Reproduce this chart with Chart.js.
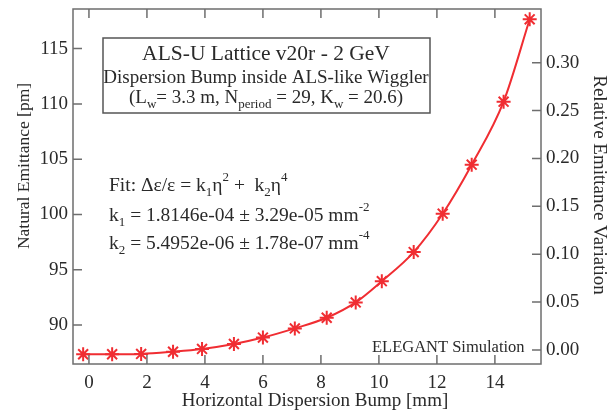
<!DOCTYPE html>
<html>
<head>
<meta charset="utf-8">
<script src="https://cdn.jsdelivr.net/npm/chart.js@4.4.1/dist/chart.umd.min.js"></script>
<style>
  html, body { margin: 0; padding: 0; background: #fff; }
  #wrap { width: 614px; height: 413px; }
</style>
</head>
<body>
<div id="wrap"><canvas id="myChart" width="614" height="413"></canvas></div>
<script>
// dispersion bump [mm] and natural emittance [pm]
const bump = [-0.2, 0.8, 1.8, 2.9, 3.9, 5.0, 6.0, 7.1, 8.2, 9.2, 10.1, 11.2, 12.2, 13.2, 14.3, 15.2];
const emittance = [87.36, 87.36, 87.39, 87.59, 87.84, 88.29, 88.87, 89.7, 90.66, 92.05, 93.97, 96.6, 100.07, 104.5, 110.2, 117.65];

const serif = "'Liberation Serif', 'DejaVu Serif', serif";
const textCol = '#2a2a2a';
const frameCol = '#6e6e6e';
const red = 'rgb(240, 45, 50)';

// draw a run of [text, mode] pieces, mode: '' normal, 'sub', 'sup'
function drawRich(c, parts, x, y, size, align) {
  const small = Math.round(size * 0.68);
  let w = 0;
  parts.forEach(p => {
    c.font = (p[1] ? small : size) + 'px ' + serif;
    w += c.measureText(p[0]).width;
  });
  let cx = align === 'center' ? x - w / 2 : x;
  parts.forEach(p => {
    c.font = (p[1] ? small : size) + 'px ' + serif;
    let dy = 0;
    if (p[1] === 'sub') dy = size * 0.28;
    if (p[1] === 'sup') dy = -size * 0.5;
    c.fillText(p[0], cx, y + dy);
    cx += c.measureText(p[0]).width;
  });
}

const framePlugin = {
  id: 'frame',
  afterDraw(chart) {
    const c = chart.ctx;
    const a = chart.chartArea;
    const L = 9;
    c.save();
    c.strokeStyle = frameCol;
    c.lineWidth = 1.5;
    c.strokeRect(a.left, a.top, a.right - a.left, a.bottom - a.top);
    c.beginPath();
    chart.scales.x.ticks.forEach(t => {
      const px = chart.scales.x.getPixelForValue(t.value);
      c.moveTo(px, a.bottom); c.lineTo(px, a.bottom - L);
      c.moveTo(px, a.top); c.lineTo(px, a.top + L);
    });
    chart.scales.y.ticks.forEach(t => {
      const py = chart.scales.y.getPixelForValue(t.value);
      c.moveTo(a.left, py); c.lineTo(a.left + L, py);
    });
    chart.scales.y2.ticks.forEach(t => {
      const py = chart.scales.y2.getPixelForValue(t.value);
      c.moveTo(a.right, py); c.lineTo(a.right - L, py);
    });
    c.stroke();

    // info box
    c.fillStyle = '#fff';
    c.fillRect(103, 38, 327, 75);
    c.strokeStyle = '#555';
    c.lineWidth = 1.5;
    c.strokeRect(103, 38, 327, 75);
    c.fillStyle = textCol;
    c.textBaseline = 'alphabetic';
    drawRich(c, [['ALS-U Lattice v20r - 2 GeV', '']], 266, 60, 21.5, 'center');
    drawRich(c, [['Dispersion Bump inside ALS-like Wiggler', '']], 266, 83, 19, 'center');
    drawRich(c, [['(L', ''], ['w', 'sub'], ['= 3.3 m, N', ''], ['period', 'sub'], [' = 29, K', ''], ['w', 'sub'], [' = 20.6)', '']], 266, 103, 19, 'center');

    // fit text
    drawRich(c, [['Fit: \u0394\u03b5/\u03b5 = k', ''], ['1', 'sub'], ['\u03b7', ''], ['2', 'sup'], [' +  k', ''], ['2', 'sub'], ['\u03b7', ''], ['4', 'sup']], 109, 191, 19.5, 'left');
    drawRich(c, [['k', ''], ['1', 'sub'], [' = 1.8146e-04 \u00b1 3.29e-05 mm', ''], ['-2', 'sup']], 109, 221, 19.5, 'left');
    drawRich(c, [['k', ''], ['2', 'sub'], [' = 5.4952e-06 \u00b1 1.78e-07 mm', ''], ['-4', 'sup']], 109, 249, 19.5, 'left');

    drawRich(c, [['ELEGANT Simulation', '']], 372, 352, 16.5, 'left');

    // axis titles
    drawRich(c, [['Horizontal Dispersion Bump [mm]', '']], 315, 406, 19, 'center');
    c.save();
    c.translate(29, 166);
    c.rotate(-Math.PI / 2);
    drawRich(c, [['Natural Emittance [pm]', '']], 0, 0, 17.5, 'center');
    c.restore();
    c.save();
    c.translate(594, 185);
    c.rotate(Math.PI / 2);
    drawRich(c, [['Relative Emittance Variation', '']], 0, 0, 19, 'center');
    c.restore();
    c.restore();
  }
};

const tickFont = { family: serif, size: 19 };

// fixed axis sizes so the plot frame sits where it does in the original
function fixVertical(s) {
  s.width = 73;
  s.paddingTop = 0;
  s.paddingBottom = 0;
}

const ctx = document.getElementById('myChart').getContext('2d');
const myChart = new Chart(ctx, {
  type: 'line',
  data: {
    datasets: [{
      data: bump.map((b, i) => ({ x: b, y: emittance[i] })),
      borderColor: red,
      backgroundColor: red,
      borderWidth: 2,
      pointStyle: 'star',
      pointRadius: 7,
      pointBorderWidth: 2,
      pointBorderColor: red,
      cubicInterpolationMode: 'monotone',
      yAxisID: 'y'
    }]
  },
  options: {
    responsive: false,
    animation: false,
    layout: { padding: { top: 8, right: 0, left: 0, bottom: 0 } },
    plugins: { legend: { display: false }, tooltip: { enabled: false } },
    scales: {
      x: {
        type: 'linear',
        min: -0.55, max: 15.59,
        grid: { display: false, drawTicks: false },
        border: { display: false },
        ticks: { stepSize: 2, includeBounds: false, padding: 8, color: textCol, font: tickFont },
        afterFit(s) { s.height = 49; s.paddingLeft = 0; s.paddingRight = 0; }
      },
      y: {
        position: 'left',
        min: 86.48, max: 118.58,
        grid: { display: false, drawTicks: false },
        border: { display: false },
        ticks: { stepSize: 5, includeBounds: false, padding: 5, color: textCol, font: tickFont },
        afterFit: fixVertical
      },
      y2: {
        position: 'right',
        min: -0.0146, max: 0.356,
        grid: { display: false, drawTicks: false },
        border: { display: false },
        ticks: { stepSize: 0.05, includeBounds: false, padding: 5, color: textCol, font: tickFont,
          callback: v => v.toFixed(2) },
        // the top tick (0.35) is left unlabelled in the original
        afterBuildTicks(s) { s.ticks = s.ticks.filter(t => t.value <= 0.3001); },
        afterFit: fixVertical
      }
    }
  },
  plugins: [framePlugin]
});
</script>
</body>
</html>
